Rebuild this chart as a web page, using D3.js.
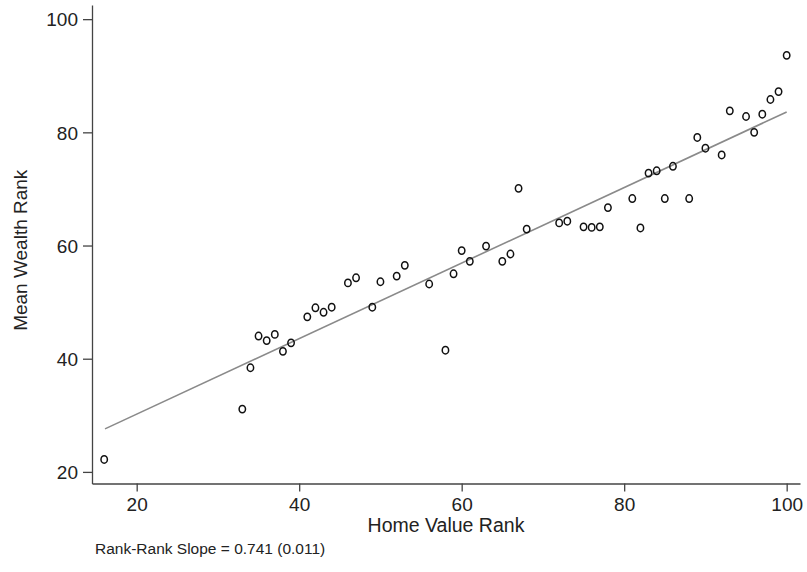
<!DOCTYPE html>
<html>
<head>
<meta charset="utf-8">
<script src="https://cdn.jsdelivr.net/npm/d3@7"></script>
<style>
  html, body { margin: 0; padding: 0; background: #fff; }
  svg { display: block; font-family: "Liberation Sans", Arial, Helvetica, sans-serif; }
</style>
</head>
<body>
<svg id="chart" width="807" height="572"></svg>
<script>
// Home value rank (x) and mean wealth rank (y)
const homeValueRank = [16, 33, 34, 35, 36, 37, 38, 39, 41, 42, 43, 44, 46, 47, 49, 50, 52, 53, 56, 58,
  59, 60, 61, 63, 65, 66, 67, 68, 72, 73, 75, 76, 77, 78, 81, 82, 83, 84, 85, 86,
  88, 89, 90, 92, 93, 95, 96, 97, 98, 99, 100];
const meanWealthRank = [22.2, 31.1, 38.4, 44.0, 43.2, 44.3, 41.3, 42.8, 47.4, 49.0, 48.2, 49.1, 53.4, 54.3, 49.1, 53.6, 54.6, 56.5, 53.2, 41.5,
  55.0, 59.1, 57.2, 59.9, 57.2, 58.5, 70.1, 62.9, 64.0, 64.3, 63.3, 63.2, 63.3, 66.7, 68.3, 63.1, 72.8, 73.2, 68.3, 74.0,
  68.3, 79.1, 77.2, 76.0, 83.8, 82.8, 80.0, 83.2, 85.8, 87.2, 93.6];
// Fitted line end points
const fitX = [16.1, 100];
const fitY = [27.6, 83.6];
const xTicks = [20, 40, 60, 80, 100];
const yTicks = [20, 40, 60, 80, 100];
const xTitle = "Home Value Rank";
const yTitle = "Mean Wealth Rank";
const note = "Rank-Rank Slope = 0.741 (0.011)";

const svg = d3.select("#chart");
const plotLeft = 92, plotRight = 800, plotTop = 5, plotBottom = 483.5;
const x = d3.scaleLinear().domain([14.5, 101.64]).range([plotLeft, plotRight]);
const y = d3.scaleLinear().domain([17.95, 102.5]).range([plotBottom, plotTop]);

const axisColor = "#444";
const textColor = "#222";

// Fit line
svg.append("line")
  .attr("x1", x(fitX[0])).attr("y1", y(fitY[0]))
  .attr("x2", x(fitX[1])).attr("y2", y(fitY[1]))
  .attr("stroke", "#8a8a8a").attr("stroke-width", 1.6);

// Points
svg.append("g").selectAll("ellipse")
  .data(homeValueRank.map((v, i) => [v, meanWealthRank[i]]))
  .join("ellipse")
  .attr("cx", d => x(d[0])).attr("cy", d => y(d[1]))
  .attr("rx", 3.2).attr("ry", 3.7)
  .attr("fill", "none").attr("stroke", "#111").attr("stroke-width", 1.5);

// X axis
const gx = svg.append("g").attr("transform", `translate(0,${plotBottom})`)
  .call(d3.axisBottom(x).tickValues(xTicks).tickSize(8).tickSizeOuter(0).tickPadding(3));
// Y axis
const gy = svg.append("g").attr("transform", `translate(${plotLeft},0)`)
  .call(d3.axisLeft(y).tickValues(yTicks).tickSize(9).tickSizeOuter(0).tickPadding(5));

[gx, gy].forEach(g => {
  g.select(".domain").attr("stroke", axisColor).attr("stroke-width", 1.3);
  g.selectAll(".tick line").attr("stroke", axisColor).attr("stroke-width", 1.3);
  g.selectAll(".tick text").attr("fill", textColor)
    .style("font-size", "19px").style("font-family", "'Liberation Sans', Arial, sans-serif");
});
gx.selectAll(".tick text").attr("dy", "0.85em");
gy.selectAll(".tick text").attr("dy", "0.36em");

// Titles
svg.append("text")
  .attr("x", (plotLeft + plotRight) / 2).attr("y", 532)
  .attr("text-anchor", "middle").attr("fill", textColor)
  .style("font-size", "19.5px").text(xTitle);

svg.append("text")
  .attr("transform", `translate(27,${(plotTop + plotBottom) / 2 + 6}) rotate(-90)`)
  .attr("text-anchor", "middle").attr("fill", textColor)
  .style("font-size", "19px").text(yTitle);

svg.append("text")
  .attr("x", 95).attr("y", 554)
  .attr("fill", textColor)
  .style("font-size", "15.5px").text(note);
</script>
</body>
</html>
